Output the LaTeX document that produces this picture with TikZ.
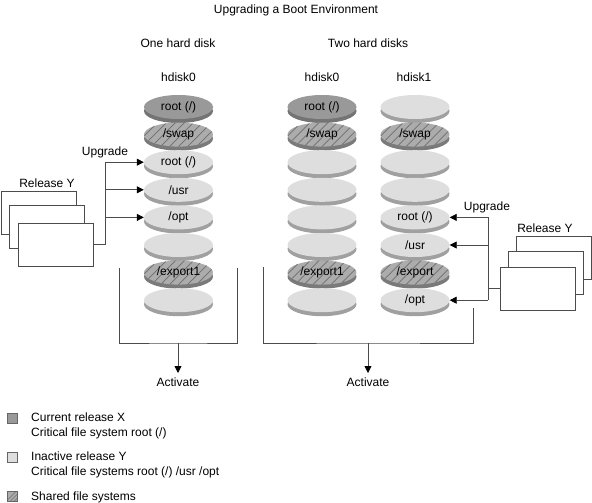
\documentclass[tikz,border=0pt]{standalone}
\usepackage{fontspec}
\setmainfont{Liberation Sans}
\usetikzlibrary{shapes.geometric,arrows.meta,positioning,calc,shadows}

\definecolor{facecur}{HTML}{999999}
\definecolor{rimcur}{HTML}{747474}
\definecolor{faceina}{HTML}{DEDEDE}
\definecolor{rimina}{HTML}{A0A0A0}
\definecolor{faceshr}{HTML}{ACACAC}
\definecolor{rimshr}{HTML}{7A7A7A}
\definecolor{hatchcol}{HTML}{6E6E6E}

\begin{document}
\begin{tikzpicture}[
    x=1pt, y=-1pt,
    font=\fontsize{12}{15}\selectfont,
    wire/.style = {draw=black!70, line width=0.8pt},
    arr/.style = {wire, -{Triangle[length=7pt, width=7pt, color=black]}},
    disk/.style = {ellipse, minimum width=69pt, minimum height=24pt, inner sep=0pt,
        general shadow={fill=#1, shadow xshift=0pt, shadow yshift=-4pt}},
    hatch/.style = {path picture={\foreach \h in {-60,-51,...,40}
        \draw[hatchcol, line width=0.8pt] ([xshift=\h pt, yshift=-6pt]path picture bounding box.south) -- ++(45pt,45pt);}},
    curdisk/.style = {disk=rimcur, fill=facecur},
    inadisk/.style = {disk=rimina, fill=faceina},
    shrdisk/.style = {disk=rimshr, fill=faceshr, hatch},
    relbox/.style = {rectangle, draw=black!70, line width=0.8pt, fill=white, minimum width=75pt, minimum height=43pt, inner sep=0pt},
    legsq/.style = {rectangle, minimum size=10pt, inner sep=0pt, draw=black!60, line width=0.6pt},
    legtxt/.style = {anchor=north west, align=left, inner sep=0pt}
]
    \useasboundingbox (0,0) rectangle (592,503);
    % Titles
    \node (title) at (296,10) {Upgrading a Boot Environment};
    \node (oneh) at (178,43) {One hard disk};
    \node (twoh) at (368,43) {Two hard disks};
    \node (hdA) at (178.5,77) {hdisk0};
    \node (hdB) at (322,77) {hdisk0};
    \node (hdC) at (414,77) {hdisk1};
    % Disk stacks
    \foreach \k/\s/\t in {0/curdisk/{root (/)}, 1/shrdisk/{/swap}, 2/inadisk/{root (/)}, 3/inadisk/{/usr},
        4/inadisk/{/opt}, 5/inadisk/{}, 6/shrdisk/{/export1}, 7/inadisk/{}}
        \node[\s] (dA\k) at (178.5,{107+27.6*\k}) {\t};
    \foreach \k/\s/\t in {0/curdisk/{root (/)}, 1/shrdisk/{/swap}, 2/inadisk/{}, 3/inadisk/{},
        4/inadisk/{}, 5/inadisk/{}, 6/shrdisk/{/export1}, 7/inadisk/{}}
        \node[\s] (dB\k) at (322,{107+27.6*\k}) {\t};
    \foreach \k/\s/\t in {0/inadisk/{}, 1/shrdisk/{/swap}, 2/inadisk/{}, 3/inadisk/{},
        4/inadisk/{root (/)}, 5/inadisk/{/usr}, 6/shrdisk/{/export}, 7/inadisk/{/opt}}
        \node[\s] (dC\k) at (415,{107+27.6*\k}) {\t};
    % Release Y media
    \node[relbox] (relA1) at (39,212.5) {};
    \node[relbox] (relA2) at (46.5,227) {};
    \node[relbox] (relA3) at (55.5,244.5) {};
    \node (rlA) at (47,183) {Release Y};
    \node[relbox] (relC1) at (553.5,258) {};
    \node[relbox] (relC2) at (545.5,272.5) {};
    \node[relbox] (relC3) at (537.5,288.5) {};
    \node (rlC) at (545,228) {Release Y};
    % Upgrade arrows
    \node (upgA) at (105,152) {Upgrade};
    \coordinate (upA) at (105,162);
    \draw[wire] (relA3.east) -| (upA);
    \foreach \k in {2,3,4}
        \draw[arr] (upA |- dA\k.west) -- (dA\k.west);
    \node (upgC) at (487,207) {Upgrade};
    \coordinate (upC) at (488,217);
    \draw[wire] (upC) -- (upC |- dC7.east);
    \draw[wire] (relC3.west) -- (relC3.west -| upC);
    \foreach \k in {4,5,7}
        \draw[arr] (upC |- dC\k.east) -- (dC\k.east);
    % Activate
    \coordinate (brA1) at (119,268);
    \coordinate (brA2) at (237,268);
    \coordinate (actA) at (178,343);
    \draw[wire] (brA1) |- (actA) -| (brA2);
    \node[inner sep=0pt, outer sep=5pt, anchor=north] (lblA) at (178,373) {Activate};
    \draw[arr] (actA) -- (lblA.north);
    \coordinate (brB1) at (263,267);
    \coordinate (brB2) at (473,308);
    \coordinate (actB) at (368,343);
    \draw[wire] (brB1) |- (actB) -| (brB2);
    \node[inner sep=0pt, outer sep=5pt, anchor=north] (lblB) at (368,373) {Activate};
    \draw[arr] (actB) -- (lblB.north);
    % Legend
    \node[legsq, fill=facecur] (legX) at (12,418.5) {};
    \node[legtxt] (txtX) at (31,412.5) {Current release X\\Critical file system root (/)};
    \node[legsq, fill=faceina] (legY) at (12,457.5) {};
    \node[legtxt] (txtY) at (31,451.5) {Inactive release Y\\Critical file systems root (/) /usr /opt};
    \node[legsq, fill=faceshr, path picture={\foreach \h in {-8,-4,...,8}
        \draw[hatchcol, line width=0.7pt] ([xshift=\h pt, yshift=-2pt]path picture bounding box.south) -- ++(14pt,14pt);}] (legS) at (12,496.5) {};
    \node[legtxt] (txtS) at (31,491.5) {Shared file systems};
\end{tikzpicture}
\end{document}
